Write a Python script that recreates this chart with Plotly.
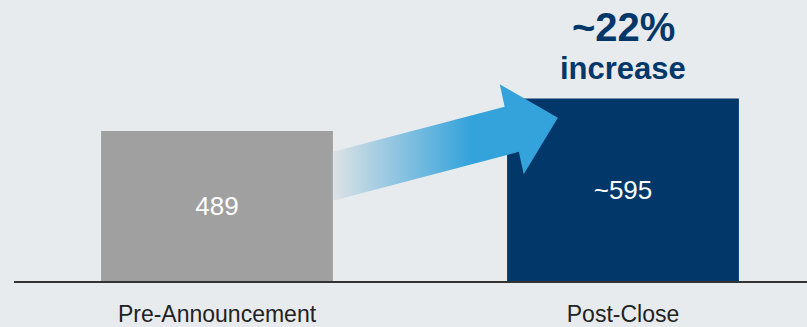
import plotly.graph_objects as go

# ---- data ----
categories = ["Pre-Announcement", "Post-Close"]
values = [489, 595]
value_labels = ["489", "~595"]
bar_colors = ["#a0a0a0", "#02376a"]
headline = "~22%"
subline = "increase"

BG = "#e8ebee"
NAVY = "#02376a"
BLUE = "#35a3db"
FONT = "Liberation Sans, Arial, sans-serif"

xpos = [0, 1]
bar_w = 0.571

fig = go.Figure()

# arrow (decoration), built relative to the bars
x0 = xpos[0] + bar_w / 2
arrow_x = [x0, x0 + 0.423, x0 + 0.411, x0 + 0.554, x0 + 0.470, x0 + 0.458, x0, x0]
arrow_y = [421, 568, 641, 532, 348, 421, 262, 421]
fig.add_trace(go.Scatter(
    x=arrow_x, y=arrow_y, mode="lines", fill="toself",
    line=dict(width=0, color="rgba(0,0,0,0)"),
    fillgradient=dict(type="horizontal",
                      colorscale=[[0, "#dde2e6"], [1, BLUE]],
                      start=x0, stop=x0 + 0.337),
    hoverinfo="skip", showlegend=False,
))

fig.add_trace(go.Bar(
    x=xpos, y=values, width=bar_w,
    marker=dict(color=bar_colors, line=dict(width=0)),
    text=value_labels, textposition="inside", insidetextanchor="middle",
    textfont=dict(family=FONT, size=26, color="white"),
    showlegend=False, hoverinfo="skip",
))

fig.add_annotation(x=xpos[1], y=values[1] + 232, text="<b>" + headline + "</b>",
                   showarrow=False, xanchor="center", yanchor="middle",
                   font=dict(family=FONT, size=40, color=NAVY))
fig.add_annotation(x=xpos[1], y=values[1] + 98, text="<b>" + subline + "</b>",
                   showarrow=False, xanchor="center", yanchor="middle",
                   font=dict(family=FONT, size=31, color=NAVY))

fig.update_layout(
    width=807, height=327,
    margin=dict(l=14, r=0, t=0, b=30),
    paper_bgcolor=BG, plot_bgcolor=BG,
    xaxis=dict(range=[-0.5, 1.4532], tickvals=xpos, ticktext=categories,
               showgrid=False, zeroline=False, showline=True,
               linecolor="#333333", linewidth=2,
               ticks="outside", ticklen=11, tickcolor="rgba(0,0,0,0)",
               tickfont=dict(family=FONT, size=23, color="#222222")),
    yaxis=dict(range=[0, 916], visible=False, showgrid=False, zeroline=False),
)

fig.write_html("out.html", config={"displayModeBar": False},
               post_script="document.body.style.margin='0';document.body.style.background='" + BG + "';")
